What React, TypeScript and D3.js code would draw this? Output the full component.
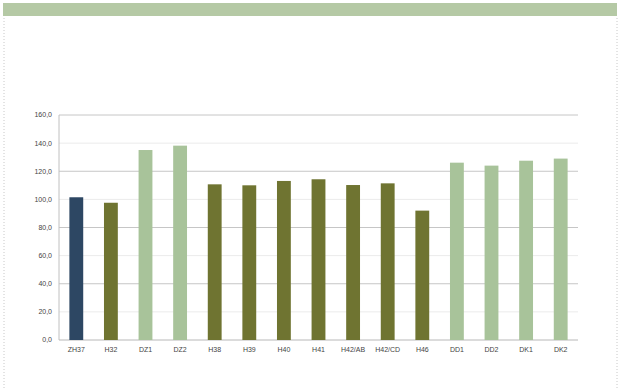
import React from "react";
import * as d3 from "d3";

const categories = ["ZH37","H32","DZ1","DZ2","H38","H39","H40","H41","H42/AB","H42/CD","H46","DD1","DD2","DK1","DK2"];
const values = [101.5,97.6,135.1,138.2,110.7,110.0,113.1,114.3,110.2,111.4,92.0,126.1,124.0,127.5,129.0];
const groups = ["navy","olive","light","light","olive","olive","olive","olive","olive","olive","olive","light","light","light","light"];
const yTicks = [0,20,40,60,80,100,120,140,160];

const colors: Record<string,string> = { navy: "#2d4763", olive: "#6f7431", light: "#a8c39a" };

export default function App() {
  const W = 620, H = 390;
  const left = 59, right = 578, top = 115, bottom = 340;
  const x = d3.scaleBand<string>().domain(categories).range([left, right]).paddingInner(0.6).paddingOuter(0.3);
  const y = d3.scaleLinear().domain([0, 160]).range([bottom, top]);
  const fmt = (v: number) => v.toFixed(1).replace(".", ",");
  return (
    <svg width={W} height={H} style={{ position: "absolute", left: 0, top: 0 }} fontFamily="Liberation Sans, Arial, sans-serif">
      <rect x={0} y={0} width={W} height={H} fill="#fff" />
      <rect x={3} y={3} width={614} height={13} fill="#b5c9a5" />
      <line x1={4} x2={4} y1={18} y2={390} stroke="#c8c8c8" strokeDasharray="1,2" />
      <line x1={617} x2={617} y1={18} y2={390} stroke="#c8c8c8" strokeDasharray="1,2" />
      {yTicks.map(t => (
        <g key={t}>
          {t > 0 && <line x1={left} x2={right} y1={y(t)} y2={y(t)} stroke={t % 40 === 0 ? "#c6c6c6" : "#ebebeb"} strokeWidth={1} />}
          <text x={left - 7} y={y(t)} dy="0.35em" textAnchor="end" fontSize={7} fill="#444">{fmt(t)}</text>
        </g>
      ))}
      <line x1={left} x2={left} y1={top} y2={bottom} stroke="#c0c0c0" />
      <line x1={left} x2={right} y1={bottom} y2={bottom} stroke="#b8b8b8" />
      {categories.map((c, i) => (
        <g key={c}>
          <rect x={x(c)!} y={y(values[i])} width={x.bandwidth()} height={bottom - y(values[i])} fill={colors[groups[i]]} />
          <text x={x(c)! + x.bandwidth() / 2} y={bottom + 12} textAnchor="middle" fontSize={7} fill="#444">{c}</text>
        </g>
      ))}
    </svg>
  );
}
